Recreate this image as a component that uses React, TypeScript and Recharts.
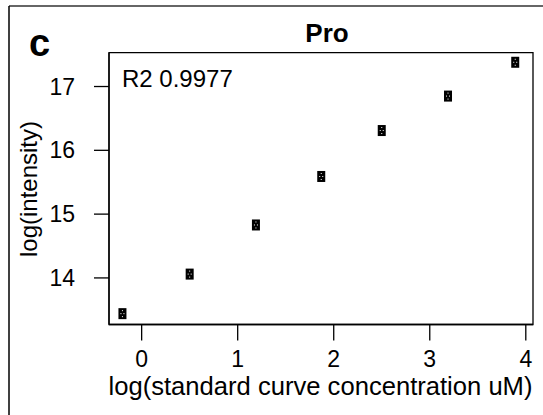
import React from "react";
import { ScatterChart, Scatter, XAxis, YAxis, ReferenceArea } from "recharts";

const concLog = [-0.2, 0.5, 1.19, 1.87, 2.5, 3.19, 3.89];
const intensityLog = [13.44, 14.06, 14.83, 15.59, 16.31, 16.85, 17.38];
const xTicks = [0, 1, 2, 3, 4];
const yTicks = [14, 15, 16, 17];
const xDomain = [-0.34, 4.075];
const yDomain = [13.27, 17.53];
const panelLabel = "c";
const title = "Pro";
const r2Text = "R2 0.9977";
const xTitle = "log(standard curve concentration uM)";
const yTitle = "log(intensity)";

const data = concLog.map((x, i) => ({ x, y: intensityLog[i] }));

const FONT = "'Liberation Sans', Arial, Helvetica, sans-serif";

const Marker = (props: any) => {
  const { cx, cy } = props;
  if (cx == null || cy == null) return null;
  return (
    <g>
      <rect x={cx - 4} y={cy - 5.5} width={8} height={11} fill="#000" />
      <rect x={cx - 0.5} y={cy - 3.5} width={1} height={1} fill="#fff" />
      <rect x={cx - 2} y={cy - 0.5} width={1} height={1} fill="#fff" />
      <rect x={cx + 1} y={cy - 0.5} width={1} height={1} fill="#fff" />
      <rect x={cx - 0.5} y={cy + 2.5} width={1} height={1} fill="#fff" />
    </g>
  );
};

export default function App() {
  const W = 543;
  const H = 415;
  return (
    <div style={{ position: "absolute", left: 0, top: 0, width: W, height: H, background: "#fff" }}>
      <div style={{ position: "absolute", left: 0, top: 0 }}>
        <ScatterChart
          width={W}
          height={H}
          margin={{ top: 52.7, right: 10, bottom: 0, left: 9 }}
          style={{ fontFamily: FONT }}
        >
          <XAxis
            type="number"
            dataKey="x"
            domain={xDomain}
            ticks={xTicks}
            allowDataOverflow
            height={90.5}
            tickSize={16}
            tickMargin={10}
            axisLine={{ stroke: "#000", strokeWidth: 1.3 }}
            tickLine={{ stroke: "#000", strokeWidth: 1.3 }}
            tick={{ fill: "#000", fontSize: 23, fontFamily: FONT }}
          />
          <YAxis
            type="number"
            dataKey="y"
            domain={yDomain}
            ticks={yTicks}
            allowDataOverflow
            width={100}
            tickSize={15}
            tickMargin={19}
            axisLine={{ stroke: "#000", strokeWidth: 1.3 }}
            tickLine={{ stroke: "#000", strokeWidth: 1.3 }}
            tick={{ fill: "#000", fontSize: 23, fontFamily: FONT }}
          />
          <ReferenceArea
            x1={xDomain[0]}
            x2={xDomain[1]}
            y1={yDomain[0]}
            y2={yDomain[1]}
            ifOverflow="visible"
            fill="none"
            fillOpacity={0}
            stroke="#000"
            strokeWidth={1.3}
          />
          <Scatter data={data} shape={Marker} isAnimationActive={false} />
        </ScatterChart>
      </div>
      <svg
        width={W}
        height={H}
        style={{ position: "absolute", left: 0, top: 0, pointerEvents: "none" }}
      >
        <line x1={9} y1={6} x2={543} y2={6} stroke="#333" strokeWidth={1.5} />
        <line x1={9} y1={6} x2={9} y2={415} stroke="#000" strokeWidth={1.5} />
        <text x={29} y={56} fontFamily={FONT} fontWeight="bold" fontSize={38} fill="#000">
          {panelLabel}
        </text>
        <text x={327} y={42} textAnchor="middle" fontFamily={FONT} fontWeight="bold" fontSize={26} fill="#000">
          {title}
        </text>
        <text x={122} y={87} fontFamily={FONT} fontSize={24} fill="#000">
          {r2Text}
        </text>
        <text x={320.5} y={395} textAnchor="middle" fontFamily={FONT} fontSize={25.6} fill="#000">
          {xTitle}
        </text>
        <text
          x={37}
          y={189}
          textAnchor="middle"
          transform="rotate(-90, 37, 189)"
          fontFamily={FONT}
          fontSize={24}
          fill="#000"
        >
          {yTitle}
        </text>
      </svg>
    </div>
  );
}
